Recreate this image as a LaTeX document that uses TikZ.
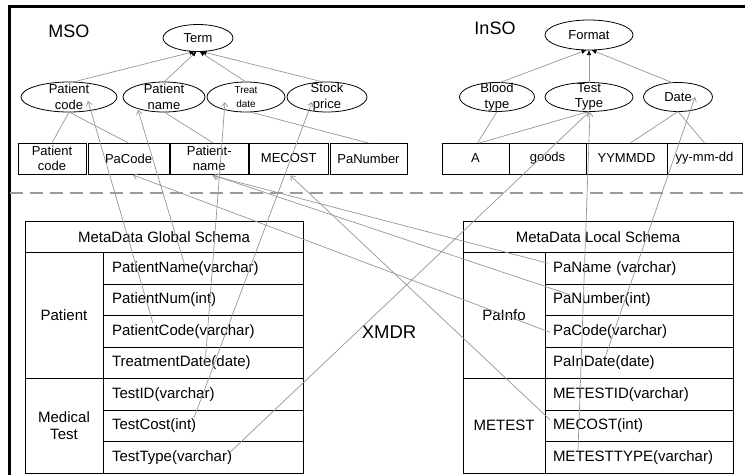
\documentclass[tikz,border=0pt]{standalone}
\usepackage{fontspec}
\setmainfont{Liberation Sans}
\usetikzlibrary{shapes.geometric,arrows.meta}
\definecolor{linkgray}{RGB}{150,150,150}
\definecolor{dashgray}{RGB}{155,155,155}
\begin{document}
\begin{tikzpicture}[x=1pt,y=-1pt,
  every node/.style={inner sep=0pt, outer sep=0pt},
  ontotext/.style={align=center, font=\fontsize{13}{15.5}\selectfont},
  smalltext/.style={align=center, font=\fontsize{10}{13.5}\selectfont},
  onto/.style={ellipse, draw, line width=0.8pt, minimum height=30},
  termbox/.style={rectangle, draw, line width=0.9pt, minimum height=31,
    align=center, font=\fontsize{13}{15}\selectfont},
  cell/.style={rectangle, draw, line width=0.9pt, align=center,
    font=\fontsize{15}{17}\selectfont},
  growcell/.style={cell, minimum height=31.5, inner xsep=9pt, text width=182pt, align=left},
  lrowcell/.style={cell, minimum height=31.5, inner xsep=8pt, text width=172pt, align=left},
  title/.style={font=\fontsize{18}{20}\selectfont},
  link/.style={draw=linkgray, line width=0.7pt},
  isa/.style={link, -{Latex[length=5pt,width=4.5pt,color=black]}},
  mapto/.style={link, -{Straight Barb[length=4pt,width=6pt]}}
]
\useasboundingbox (0,0) rectangle (745,475);

% outer frame (top and left edges)
\draw[line width=2.5pt] (9.5,475) -- (9.5,6.5) -- (745,6.5);

% separator between ontology layer and schema layer
\draw[dashgray, line width=2.6pt, dash pattern=on 13pt off 7pt] (9.5,193) -- (745,193);

% ---------- MSO ----------
\node[title] (mso) at (69,31) {MSO};
\node[onto, minimum width=70, minimum height=27] (term) at (198,38) {};
\node[ontotext] (termT) at (term.center) {Term};

\node[onto, minimum width=96] (pcode) at (69,97) {};
\node[ontotext] (pcodeT) at (pcode.center) {Patient\\code};
\node[onto, minimum width=82] (pname) at (164,97) {};
\node[ontotext] (pnameT) at (pname.center) {Patient\\name};
\node[onto, minimum width=78] (tdate) at (246,97) {};
\node[smalltext] (tdateT) at (tdate.center) {Treat\\date};
\node[onto, minimum width=80] (sprice) at (327,97) {};
\node[ontotext] (spriceT) at (sprice.center) {Stock\\price};

\node[termbox, minimum width=68] (b1) at (52,158.5) {Patient\\code};
\node[termbox, minimum width=81] (b2) at (128.5,158.5) {PaCode};
\node[termbox, minimum width=77.5] (b3) at (209.25,158.5) {Patient-\\name};
\node[termbox, minimum width=78.5] (b4) at (288.75,158.5) {MECOST};
\node[termbox, minimum width=77] (b5) at (368.5,158.5) {PaNumber};

% ---------- InSO ----------
\node[title] (inso) at (495,28) {InSO};
\node[onto, minimum width=88] (format) at (589,35) {};
\node[ontotext] (formatT) at (format.center) {Format};

\node[onto, minimum width=75, minimum height=29] (btype) at (497,97) {};
\node[ontotext] (btypeT) at (btype.center) {Blood\\type};
\node[onto, minimum width=88, minimum height=29] (ttype) at (589,97) {};
\node[ontotext] (ttypeT) at (ttype.center) {Test\\Type};
\node[onto, minimum width=69, minimum height=29] (date) at (678,97) {};
\node[ontotext] (dateT) at (date.center) {Date};

\node[termbox, minimum width=67] (rA) at (475.5,158.5) {A};
\node[termbox, minimum width=77] (rGoods) at (547.5,158.5) {goods};
\node[termbox, minimum width=81] (rYY) at (626.5,158.5) {YYMMDD};
\node[termbox, minimum width=75] (rYy) at (704.5,158.5) {yy-mm-dd};

% ---------- global schema ----------
\node[cell, minimum width=278, minimum height=31.5] (gHead) at (164,236.75) {MetaData Global Schema};
\node[cell, minimum width=78, minimum height=126] (gPat) at (64,315.5) {Patient};
\node[cell, minimum width=78, minimum height=94.5] (gMed) at (64,425.75) {Medical\\Test};
\node[growcell] (gPname) at (203,268.25) {PatientName(varchar)};
\node[growcell] (gPnum)  at (203,299.75) {PatientNum(int)};
\node[growcell] (gPcode) at (203,331.25) {PatientCode(varchar)};
\node[growcell] (gTdate) at (203,362.75) {TreatmentDate(date)};
\node[growcell] (gTid)   at (203,394.25) {TestID(varchar)};
\node[growcell] (gTcost) at (203,425.75) {TestCost(int)};
\node[growcell] (gTtype) at (203,457.25) {TestType(varchar)};

% ---------- local schema ----------
\node[cell, minimum width=270, minimum height=31.5] (lHead) at (598,236.75) {MetaData Local Schema};
\node[cell, minimum width=82, minimum height=126] (lPa) at (504,315.5) {PaInfo};
\node[cell, minimum width=82, minimum height=94.5] (lMe) at (504,425.75) {METEST};
\node[lrowcell] (lPaName)  at (639,268.25) {PaName (varchar)};
\node[lrowcell] (lPaNum)   at (639,299.75) {PaNumber(int)};
\node[lrowcell] (lPaCode)  at (639,331.25) {PaCode(varchar)};
\node[lrowcell] (lPaIn)    at (639,362.75) {PaInDate(date)};
\node[lrowcell] (lMeId)    at (639,394.25) {METESTID(varchar)};
\node[lrowcell] (lMeCost)  at (639,425.75) {MECOST(int)};
\node[lrowcell] (lMeType)  at (639,457.25) {METESTTYPE(varchar)};

\node[font=\fontsize{18.5}{20}\selectfont] (xmdr) at (389,332) {XMDR};

% ---------- ontology hierarchy ----------
\draw[isa] ([xshift=4]pcode.north) -- ([xshift=-3.5]term.south);
\draw[isa] (pname.north) -- ([xshift=-1.5]term.south);
\draw[isa] (tdate.north) -- ([xshift=1.5]term.south);
\draw[isa] ([xshift=-4]sprice.north) -- ([xshift=3.5]term.south);

\draw[isa] ([xshift=3]btype.north) -- ([xshift=-2.5]format.south);
\draw[isa] (ttype.north) -- (format.south);
\draw[isa] ([xshift=-6]date.north) -- ([xshift=2.5]format.south);

% ---------- ontology terms to values ----------
\draw[link] (pcode.south) -- (b1.north);
\draw[link] (pcode.south) -- (b2.north);
\draw[link] (pname.south) -- ([xshift=4]b3.north);
\draw[link] ([xshift=4]tdate.south) -- (b5.north);

\draw[link] (btype.south) -- ([xshift=2]rA.north);
\draw[link] ([xshift=4]rA.north) -- (ttype.south);
\draw[link] (date.south) -- ([xshift=4]rYY.north);
\draw[link] (date.south) -- (rYy.north);

% ---------- global schema to ontology ----------
\draw[mapto] ([shift={(-50,-8)}]gPcode.center) -- ([shift={(19,4)}]pcode.center);
\draw[mapto] ([shift={(-18,-2)}]gPname.center) -- ([shift={(-26,13)}]pname.center);
\draw[mapto] ([shift={(2,2)}]gTdate.center) -- ([shift={(-21,5)}]tdate.center);
\draw[mapto] ([shift={(-9,-8)}]gTcost.center) -- ([shift={(-15,5)}]sprice.center);
\draw[mapto] ([shift={(27,-5)}]gTtype.center) -- ([shift={(0,15)}]ttype.center);

% ---------- local schema to ontology ----------
\draw[mapto] ([shift={(-91,-5)}]lPaName.center) -- ([shift={(3,17)}]b3.center);
\draw[mapto] ([shift={(-69,-5)}]lPaNum.center) -- ([shift={(5,17)}]b3.center);
\draw[mapto] ([shift={(-89,1)}]lPaCode.center) -- ([shift={(4.5,16.5)}]b2.center);
\draw[mapto] ([shift={(-89,-6)}]lMeCost.center) -- ([shift={(1.5,17)}]b4.center);
\draw[mapto] ([shift={(-34,-5)}]lPaIn.center) -- ([shift={(17,0)}]date.center);
\draw[mapto] ([shift={(-61,-7)}]lMeType.center) -- ([shift={(1,15)}]ttype.center);
\end{tikzpicture}
\end{document}
